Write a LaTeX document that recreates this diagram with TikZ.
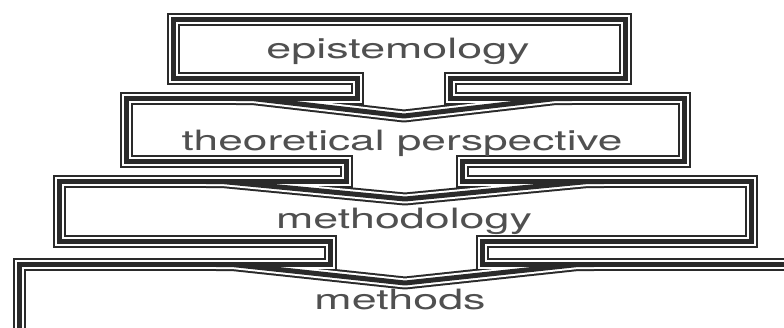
\documentclass[tikz,border=0pt]{standalone}
\usepackage{fontspec}
\setmainfont{TeX Gyre Heros}
\usepackage{graphicx}
\definecolor{ink}{HTML}{2A2A2A}
\definecolor{txt}{HTML}{505050}
\newcommand\drawborders[1]{%
  % union outline of the four boxes and their necks
  \draw[#1,line join=miter] (173.5,19.5) -- (625.5,19.5) -- (625.5,78.5) -- (450.5,78.5) -- (450.5,98.5)
     -- (684.5,98.5) -- (684.5,161.5) -- (462.5,161.5) -- (462.5,181.5)
     -- (751.5,181.5) -- (751.5,241.5) -- (482.5,241.5) -- (482.5,264.5)
     -- (820.5,264.5) -- (820.5,350.5) -- (19.5,350.5) -- (19.5,264.5)
     -- (330.5,264.5) -- (330.5,241.5) -- (59.5,241.5) -- (59.5,181.5)
     -- (346.5,181.5) -- (346.5,161.5) -- (126.5,161.5) -- (126.5,98.5)
     -- (357.5,98.5) -- (357.5,78.5) -- (173.5,78.5) -- cycle;
  % chevrons
  \draw[#1,line join=round] (236,98.5) -- (252,98.5) -- (404,116) -- (556,98.5) -- (572,98.5);
  \draw[#1,line join=round] (206,181.5) -- (222,181.5) -- (405,199) -- (588,181.5) -- (604,181.5);
  \draw[#1,line join=round] (216,264.5) -- (232,264.5) -- (405,283) -- (578,264.5) -- (594,264.5);
}
\begin{document}
\begin{tikzpicture}[x=1pt,y=-1pt,
  lbl/.style={anchor=base,text=txt,inner sep=0pt,font=\fontsize{28}{28}\selectfont}]
\useasboundingbox (0,0) rectangle (784,327);
\fill[white] (0,0) rectangle (784,327);
\clip (0,0) rectangle (784,327);
\drawborders{ink,line width=13pt}
\drawborders{white,line width=9pt}
\drawborders{ink,line width=5pt}
\node[lbl] (epi) at (398,58) {\scalebox{1.6}[1]{epistemology}};
\node[lbl] (theo) at (402,150) {\scalebox{1.58}[1]{theoretical perspective}};
\node[lbl] (meth) at (404,228) {\scalebox{1.6}[1]{methodology}};
\node[lbl] (mtds) at (400,309) {\scalebox{1.6}[1]{methods}};
\end{tikzpicture}
\end{document}
